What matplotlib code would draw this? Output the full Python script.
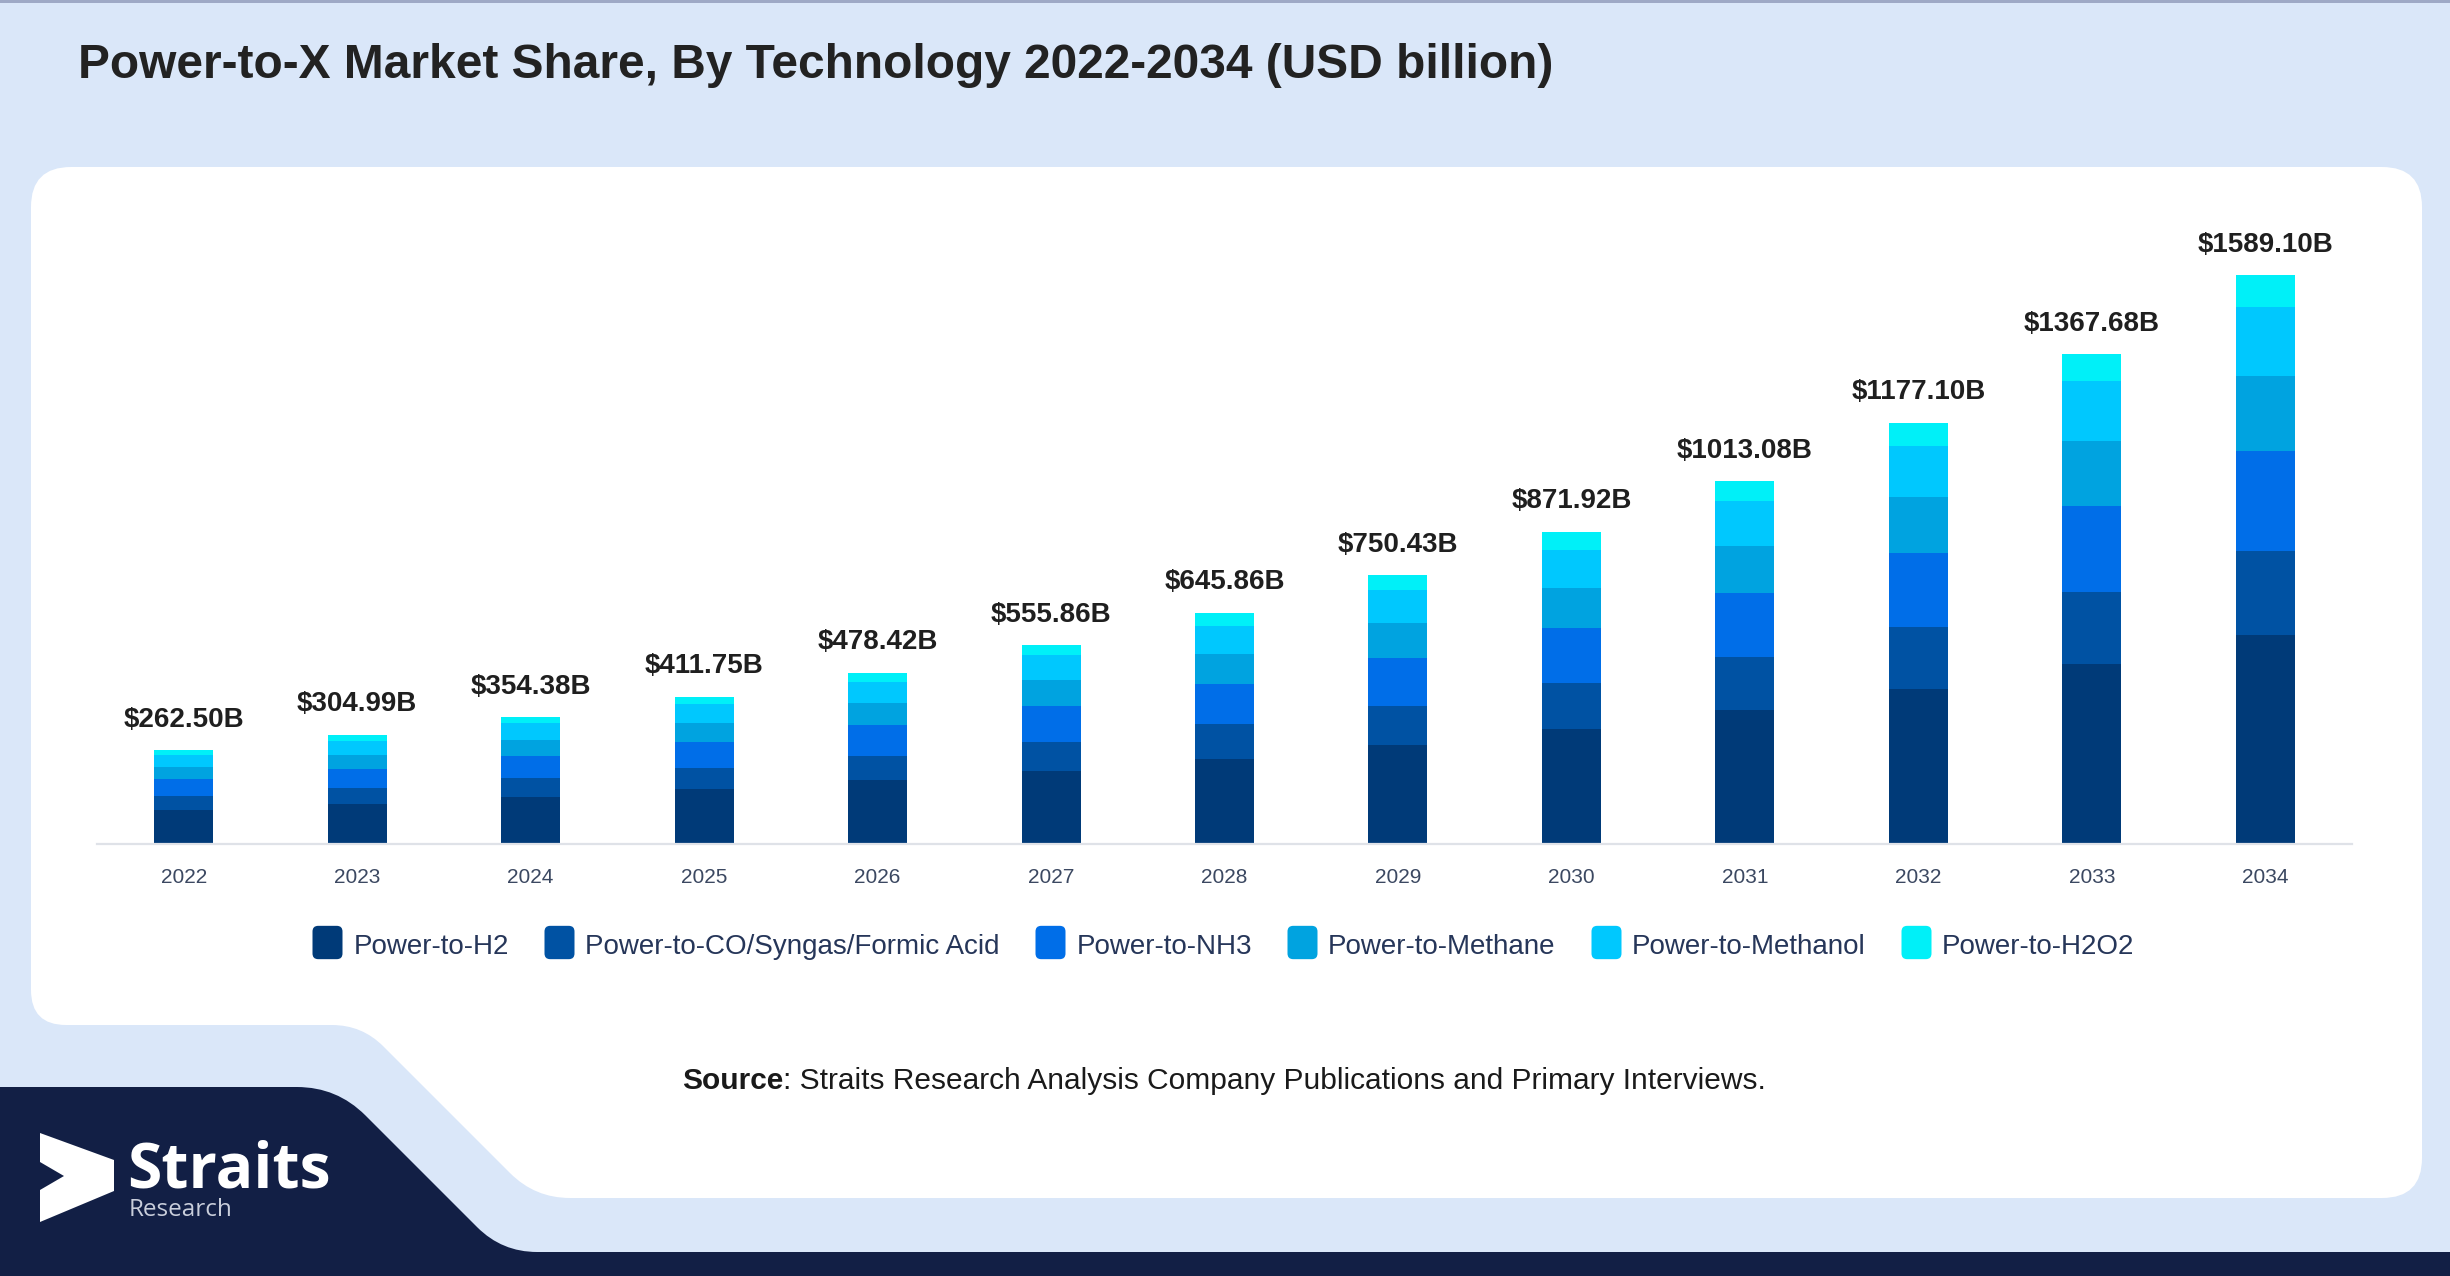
import numpy as np
import matplotlib
matplotlib.use("Agg")
import matplotlib.pyplot as plt
from matplotlib.path import Path
from matplotlib.patches import PathPatch, Rectangle
from matplotlib.lines import Line2D

plt.rcParams['font.family'] = ['Liberation Sans', 'DejaVu Sans']

# data (USD billion)
years = ['2022', '2023', '2024', '2025', '2026', '2027', '2028',
         '2029', '2030', '2031', '2032', '2033', '2034']
totals = [262.50, 304.99, 354.38, 411.75, 478.42, 555.86, 645.86,
          750.43, 871.92, 1013.08, 1177.10, 1367.68, 1589.10]
h2 = [95.5, 112.8, 132.1, 153.3, 178.4, 202.6, 237.9, 277.1, 320.7, 373.4, 432.2, 502.7, 583.4]
co = [39.0, 44.4, 51.2, 58.5, 68.7, 82.7, 96.6, 108.8, 128.3, 149.0, 174.3, 199.7, 234.3]
nh3 = [48.2, 52.7, 61.4, 74.4, 85.5, 101.3, 112.4, 133.0, 153.4, 179.7, 206.8, 240.3, 280.7]
methane = [33.4, 39.7, 46.5, 52.0, 60.4, 70.6, 84.6, 97.6, 113.4, 131.3, 154.5, 183.4, 208.8]
methanol = [32.5, 38.8, 45.6, 53.9, 59.5, 69.7, 77.1, 92.1, 106.0, 123.8, 144.1, 166.0, 192.5]
h2o2 = [13.9, 16.6, 17.7, 19.5, 26.0, 28.8, 37.2, 41.8, 50.2, 55.9, 65.1, 75.5, 89.3]

series_names = ['Power-to-H2', 'Power-to-CO/Syngas/Formic Acid', 'Power-to-NH3',
                'Power-to-Methane', 'Power-to-Methanol', 'Power-to-H2O2']
series_vals = [h2, co, nh3, methane, methanol, h2o2]
colors = ['#003a78', '#0052a3', '#006ee8', '#00a3e0', '#00c8fe', '#00f0f8']

W, H = 2450, 1276


def rounded_path(pts, radii):
    # closed polygon with quadratic-rounded corners
    n = len(pts)
    verts, codes = [], []
    for i in range(n):
        p0, p1, p2 = np.array(pts[i - 1], float), np.array(pts[i], float), np.array(pts[(i + 1) % n], float)
        d1, d2 = p0 - p1, p2 - p1
        l1, l2 = np.hypot(*d1), np.hypot(*d2)
        r = min(radii[i], l1 / 2, l2 / 2)
        a, b = p1 + d1 / l1 * r, p1 + d2 / l2 * r
        verts.append(a)
        codes.append(Path.MOVETO if i == 0 else Path.LINETO)
        verts += [p1, b]
        codes += [Path.CURVE3, Path.CURVE3]
    verts.append(verts[0])
    codes.append(Path.CLOSEPOLY)
    return Path(verts, codes)


fig = plt.figure(figsize=(W / 100, H / 100), dpi=100)

# background layer in pixel coordinates
bg = fig.add_axes([0, 0, 1, 1])
bg.set_xlim(0, W)
bg.set_ylim(H, 0)
bg.axis('off')
bg.set_zorder(0)
bg.add_patch(Rectangle((0, 0), W, H, color='#dae7f9', lw=0))
bg.add_patch(Rectangle((0, 0), W, 3, color='#9ea9c6', lw=0))
card = rounded_path([(31, 167), (2422, 167), (2422, 1198), (535, 1198), (362, 1025), (31, 1025)],
                    [40, 40, 40, 35, 30, 35])
bg.add_patch(PathPatch(card, facecolor='white', edgecolor='none'))
navy = rounded_path([(0, 1087), (337, 1087), (502, 1252), (W, 1252), (W, H), (0, H)],
                    [0, 40, 35, 0, 0, 0])
bg.add_patch(PathPatch(navy, facecolor='#121f45', edgecolor='none'))
arrow = Path([(40, 1133), (114, 1160), (114, 1191), (40, 1222), (40, 1190), (64, 1176), (40, 1162), (40, 1133)],
             [Path.MOVETO] + [Path.LINETO] * 6 + [Path.CLOSEPOLY])
bg.add_patch(PathPatch(arrow, facecolor='white', edgecolor='none'))
bg.text(127, 1188, 'Straits', color='white', fontsize=45, fontweight='bold',
        family=['Open Sans', 'DejaVu Sans'], va='baseline', ha='left')
bg.text(129, 1216, 'Research', color='#c9cedb', fontsize=17.5,
        family=['Open Sans', 'DejaVu Sans'], va='baseline', ha='left')

bg.text(78, 66, 'Power-to-X Market Share, By Technology 2022-2034 (USD billion)',
        fontsize=34.5, fontweight='bold', color='#222222', va='center', ha='left')

# source line: bold "Source" followed by regular text, centred
renderer = fig.canvas.get_renderer()
t1 = bg.text(0, 1081, 'Source', fontsize=21.5, fontweight='bold', color='#1a1a1a', va='center')
t2 = bg.text(0, 1081, ': Straits Research Analysis Company Publications and Primary Interviews.',
             fontsize=21.5, color='#1a1a1a', va='center')
w1 = t1.get_window_extent(renderer).width
w2 = t2.get_window_extent(renderer).width
x0 = 1224 - (w1 + w2) / 2
t1.set_x(x0)
t2.set_x(x0 + w1)

# chart
ymax = 1800
ax = fig.add_axes([97 / W, (H - 844) / H, 2255 / W, ymax * 0.35807 / H])
ax.set_zorder(1)
ax.patch.set_alpha(0)
x = np.arange(len(years))
bottom = np.zeros(len(years))
for name, vals, c in zip(series_names, series_vals, colors):
    ax.bar(x, vals, bottom=bottom, width=0.34, color=c, edgecolor='none', label=name)
    bottom += np.array(vals)

for xi, top, tot in zip(x, bottom, totals):
    ax.annotate(f'${tot:.2f}B', (xi, top), xytext=(0, 12.5), textcoords='offset points',
                ha='center', va='bottom', fontsize=20, fontweight='bold', color='#1f1f1f')

ax.set_xlim(-0.5, len(years) - 0.5)
ax.set_ylim(0, ymax)
ax.set_xticks(x)
ax.set_xticklabels(years)
ax.tick_params(axis='x', length=0, pad=17, labelsize=15, labelcolor='#3b4861')
ax.set_yticks([])
for s in ['top', 'right', 'left']:
    ax.spines[s].set_visible(False)
ax.spines['bottom'].set_color('#dfe2e8')
ax.spines['bottom'].set_linewidth(1.6)

# legend with rounded square markers
marker = rounded_path([(-0.45, -0.5), (0.45, -0.5), (0.45, 0.5), (-0.45, 0.5)], [0.17] * 4)
handles = [Line2D([], [], linestyle='none', marker=marker, markersize=24,
                  markerfacecolor=c, markeredgecolor='none') for c in colors]
fig.legend(handles, series_names, loc='center', bbox_to_anchor=(1224 / W, (H - 945) / H),
           ncol=6, frameon=False, fontsize=20, handlelength=1.0, handleheight=1.2,
           handletextpad=0.45, columnspacing=1.3, labelcolor='#263659')

fig.savefig('out.png', dpi=100)
